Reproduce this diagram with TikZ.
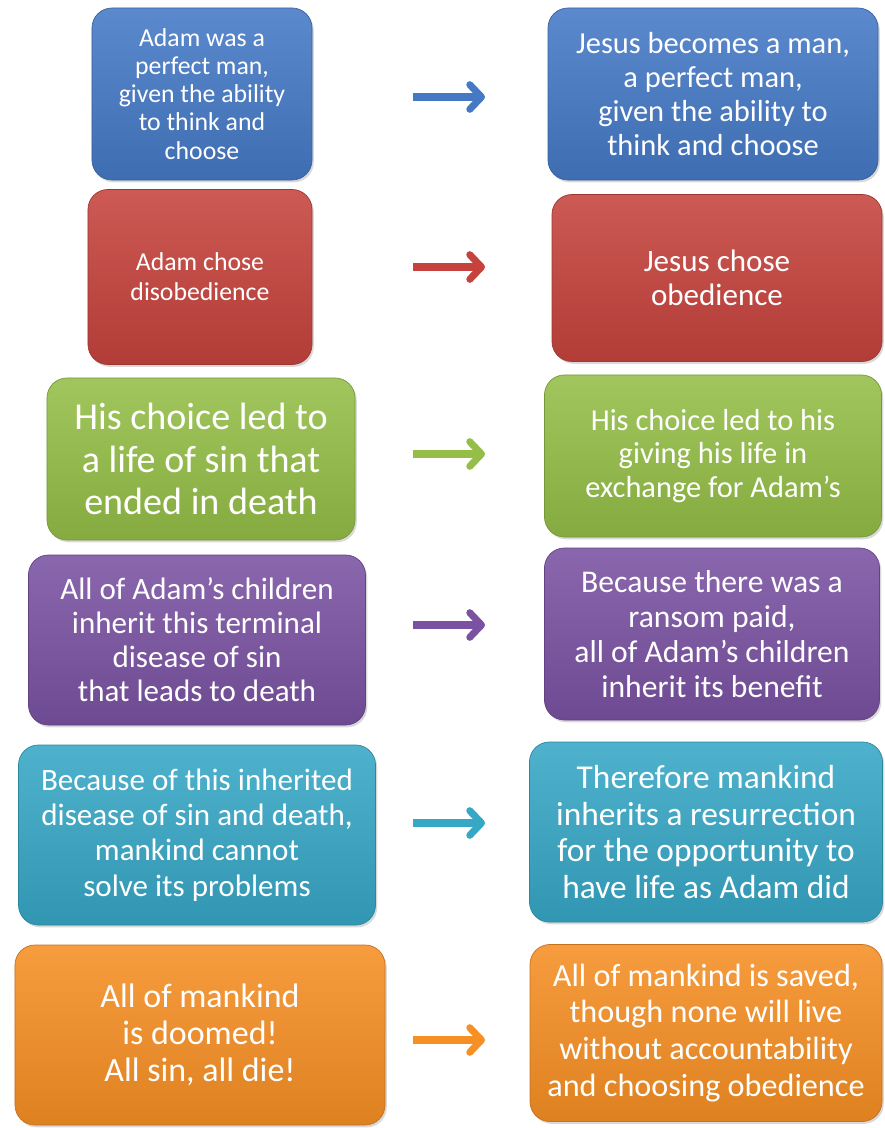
\documentclass[tikz,border=0pt]{standalone}
\usepackage{fontspec}
\setmainfont{Carlito}
\usetikzlibrary{arrows.meta,shadows}
\definecolor{pblue}{HTML}{4579C6}
\definecolor{pred}{HTML}{C6433D}
\definecolor{pgreen}{HTML}{94BE47}
\definecolor{ppurple}{HTML}{7A52A2}
\definecolor{paqua}{HTML}{37A7C6}
\definecolor{porange}{HTML}{F68F24}

\tikzset{
  panel/.style={rounded corners=17pt, top color=#1!88!white, bottom color=#1!90!black,
    draw=#1!80!black, line width=0.6pt, text=white, align=center, inner sep=0pt,
    drop shadow={shadow xshift=1.5pt, shadow yshift=-2pt, opacity=0.3}},
  fsize/.style 2 args={font=\fontsize{#1}{#2}\selectfont},
  arr/.style={draw=#1, line width=6pt, -{Straight Barb[length=10pt, width=21pt, round]}},
}

\begin{document}
\begin{tikzpicture}[x=0.03cm, y=-0.03cm]
            \useasboundingbox (0,0) rectangle (884,1128);
            % left column
            \node (l1) at (202,94) [panel=pblue, minimum width=6.6cm, minimum height=5.16cm, fsize={22}{24}]
                {Adam was a\\perfect man,\\given the ability\\to think and\\choose};
            \node (l2) at (200,277) [panel=pred, minimum width=6.72cm, minimum height=5.25cm, fsize={22}{25.5}]
                {Adam chose\\disobedience};
            \node (l3) at (201,459) [panel=pgreen, minimum width=9.24cm, minimum height=4.86cm, fsize={32.5}{36}]
                {His choice led to\\a life of sin that\\ended in death};
            \node (l4) at (197,640) [panel=ppurple, minimum width=10.11cm, minimum height=5.1cm, fsize={26.5}{29}]
                {All of Adam’s children\\inherit this terminal\\disease of sin\\that leads to death};
            \node (l5) at (197,835) [panel=paqua, minimum width=10.71cm, minimum height=5.4cm, fsize={26.5}{30}]
                {Because of this inherited\\disease of sin and death,\\mankind cannot\\solve its problems};
            \node (l6) at (200,1035) [panel=porange, minimum width=11.1cm, minimum height=5.4cm, fsize={29}{31.5}]
                {All of mankind\\is doomed!\\All sin, all die!};
            % right column
            \node (r1) at (713,94) [panel=pblue, minimum width=9.9cm, minimum height=5.16cm, fsize={26}{29}]
                {Jesus becomes a man,\\a perfect man,\\given the ability to\\think and choose};
            \node (r2) at (717,278) [panel=pred, minimum width=9.9cm, minimum height=5.01cm, fsize={26.5}{29}]
                {Jesus chose\\obedience};
            \node (r3) at (713,456) [panel=pgreen, minimum width=10.11cm, minimum height=4.86cm, fsize={26}{28.5}]
                {His choice led to his\\giving his life in\\exchange for Adam’s};
            \node (r4) at (712,634) [panel=ppurple, minimum width=10.05cm, minimum height=5.16cm, fsize={27}{30}]
                {Because there was a\\ransom paid,\\all of Adam’s children\\inherit its benefit};
            \node (r5) at (706,832) [panel=paqua, minimum width=10.59cm, minimum height=5.4cm, fsize={28.5}{31.5}]
                {Therefore mankind\\inherits a resurrection\\for the opportunity to\\have life as Adam did};
            \node (r6) at (706,1033) [panel=porange, minimum width=10.56cm, minimum height=5.31cm, fsize={27.5}{31.5}]
                {All of mankind is saved,\\though none will live\\without accountability\\and choosing obedience};
            % arrows
            \coordinate (a1) at (413,97);   \coordinate (b1) at (485,97);
            \coordinate (a2) at (413,267);  \coordinate (b2) at (485,267);
            \coordinate (a3) at (413,454);  \coordinate (b3) at (485,454);
            \coordinate (a4) at (413,625);  \coordinate (b4) at (485,625);
            \coordinate (a5) at (413,823);  \coordinate (b5) at (485,823);
            \coordinate (a6) at (413,1040); \coordinate (b6) at (485,1040);
            \draw[arr=pblue] (a1) -- (b1);
            \draw[arr=pred] (a2) -- (b2);
            \draw[arr=pgreen] (a3) -- (b3);
            \draw[arr=ppurple] (a4) -- (b4);
            \draw[arr=paqua] (a5) -- (b5);
            \draw[arr=porange] (a6) -- (b6);
        \end{tikzpicture}
\end{document}
